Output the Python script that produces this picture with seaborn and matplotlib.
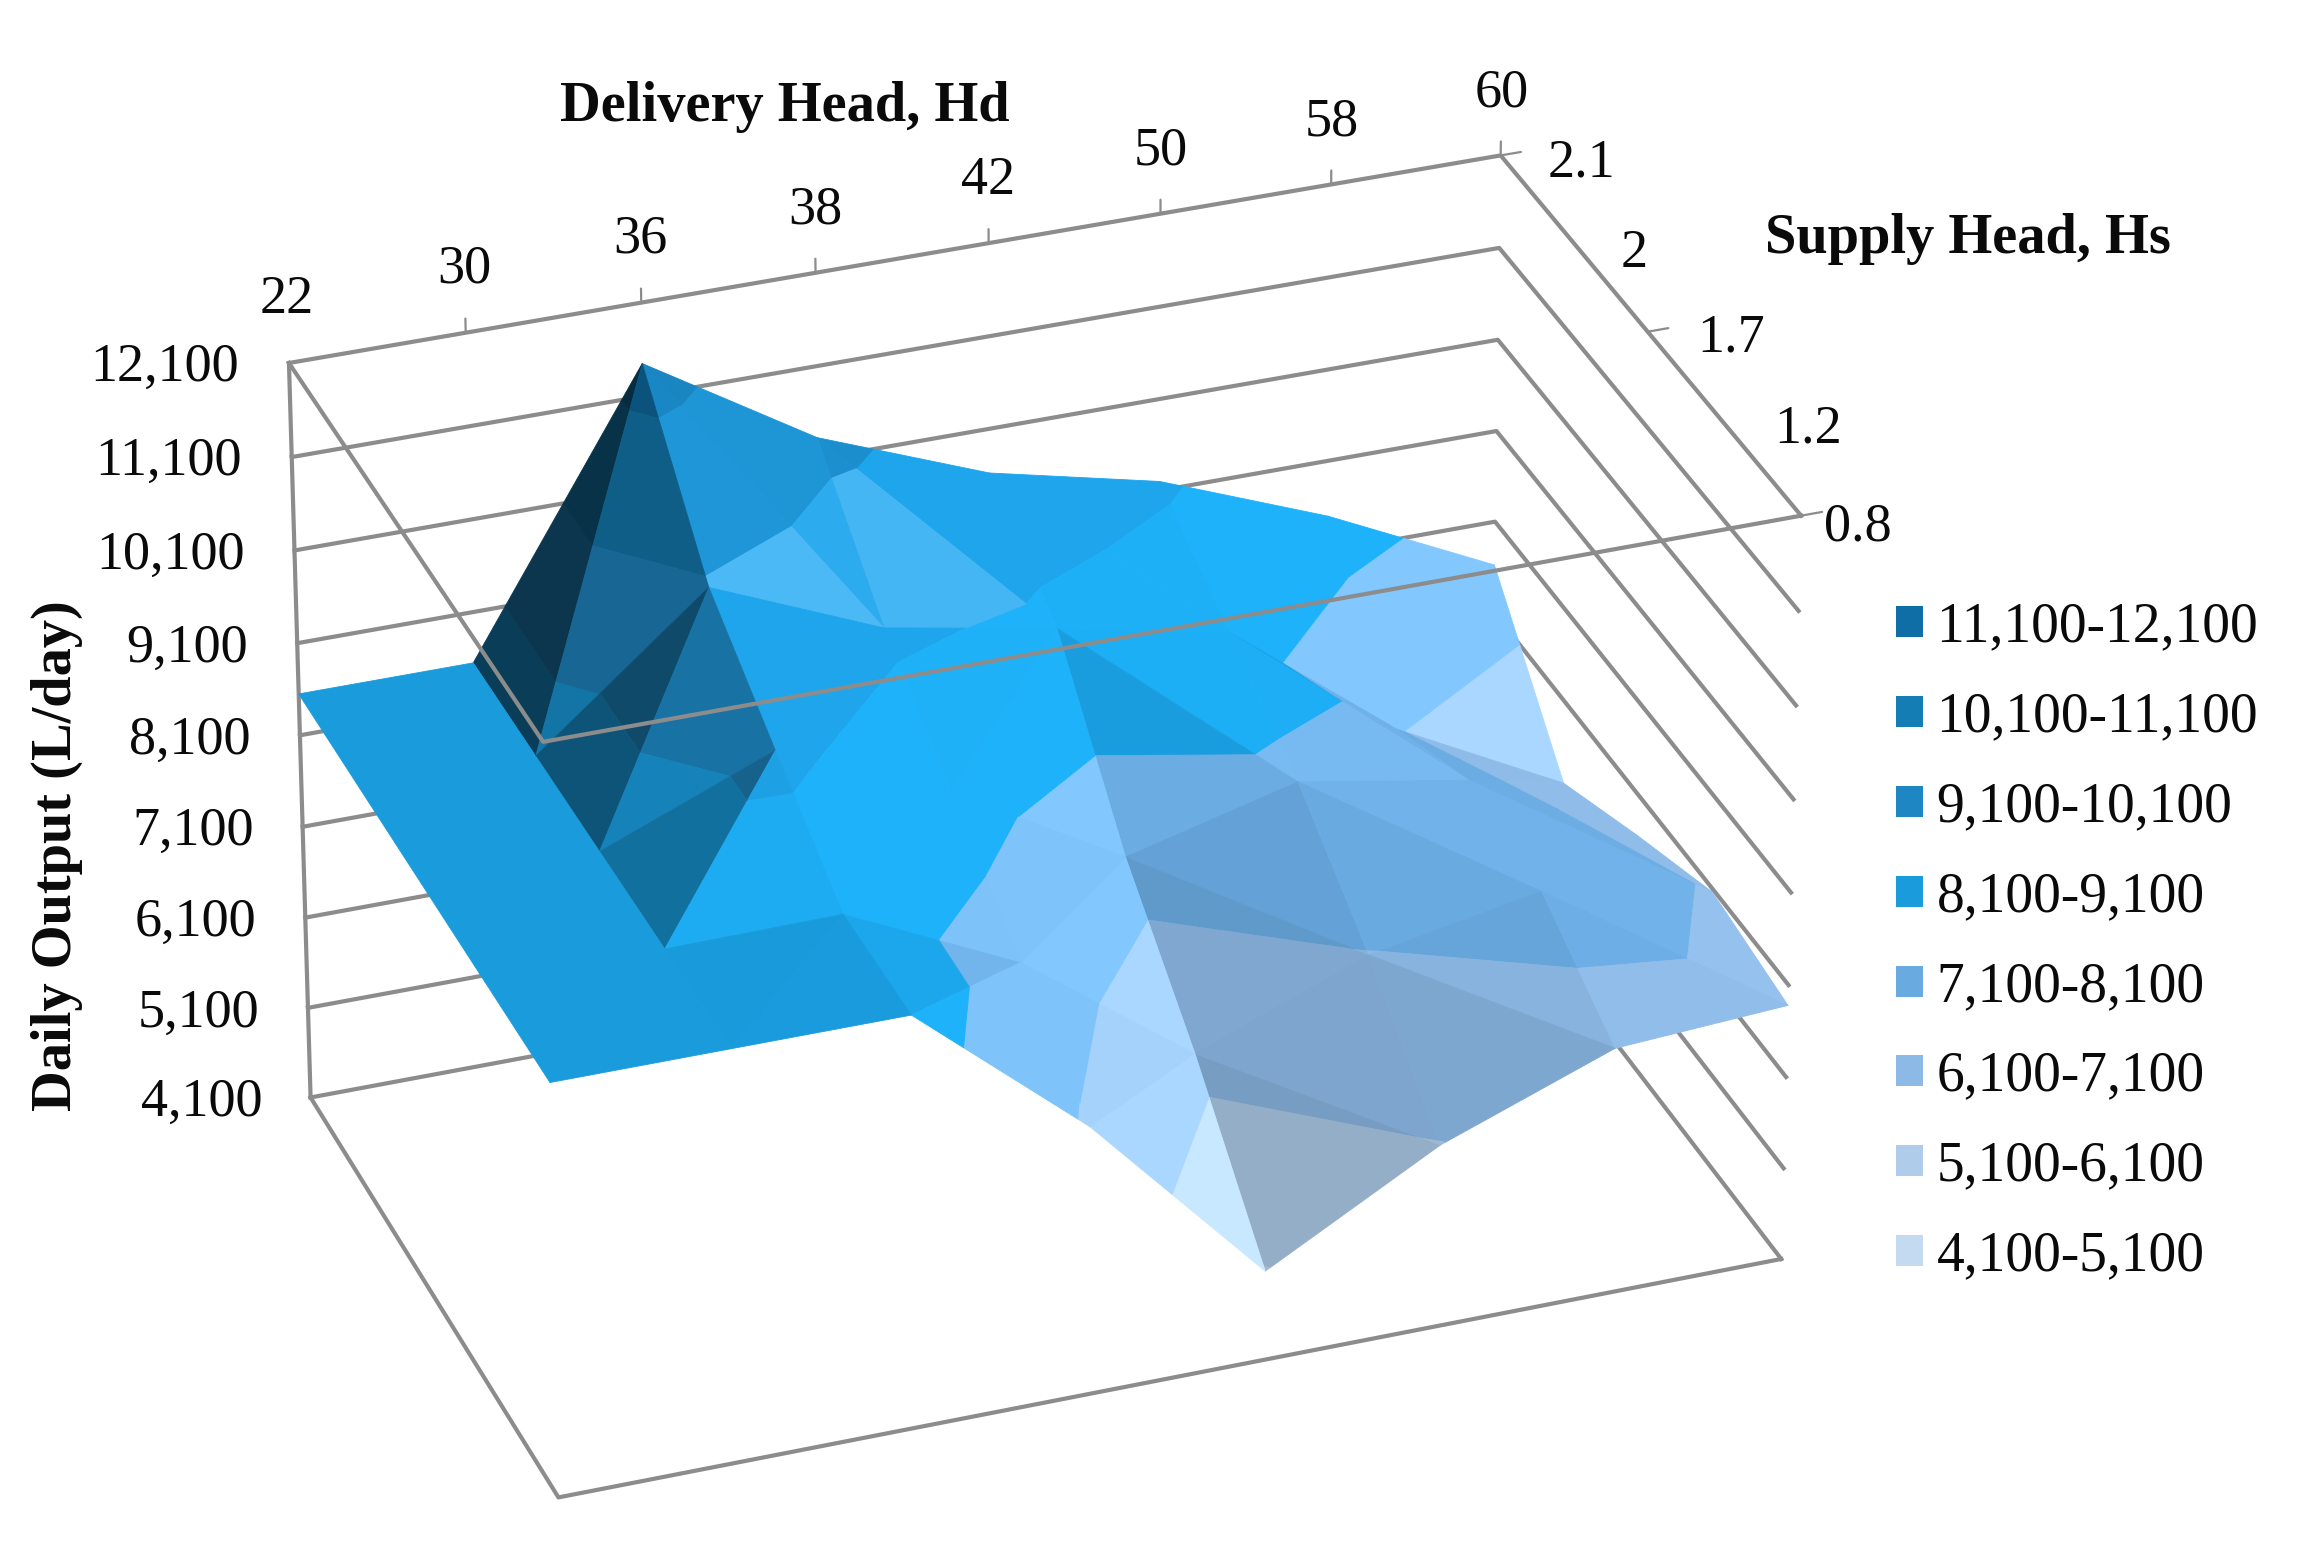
import numpy as np
import seaborn as sns
import matplotlib
matplotlib.use("Agg")
import matplotlib.pyplot as plt
from matplotlib.colors import to_rgb
from matplotlib.patches import Patch
from mpl_toolkits.mplot3d import proj3d
from mpl_toolkits.mplot3d.art3d import Poly3DCollection

hd_labels = ["22", "30", "36", "38", "42", "50", "58", "60"]
hs_labels = ["0.8", "1.2", "1.7", "2", "2.1"]
z_ticks = [4100, 5100, 6100, 7100, 8100, 9100, 10100, 11100, 12100]

# daily output per supply head, one value per delivery head
output_08 = [8550, 8550, 8550, 7000, 5070, 6080, 6770, 6880]
output_12 = [8550, 8550, 8570, 7700, 6360, 7080, 7420, 7063]
output_17 = [8550, 8550, 9290, 8500, 7450, 7925, 7600, 6650]
output_20 = [8550, 8550, 10030, 9260, 8920, 8550, 7140, 6200]
output_21 = [8550, 8550, 11450, 10330, 9620, 9200, 8490, 7620]

band_edges = [4100, 5100, 6100, 7100, 8100, 9100, 10100, 11100, 12100]
band_labels = ["4,100-5,100", "5,100-6,100", "6,100-7,100", "7,100-8,100",
               "8,100-9,100", "9,100-10,100", "10,100-11,100", "11,100-12,100"]
band_colors = ["#c3daf0", "#afcdeb", "#8cb9e6", "#69aae1",
               "#199bdc", "#1e87c3", "#147db4", "#0f6ea5"]
# what each band turns into on the faces that catch the light
band_lit = ["#cdeeff", "#c8e8ff", "#aad7ff", "#82c8ff",
            "#1eb2fa", "#1ea5eb", "#1e96d7", "#1987c3"]
band_span = [0.45, 0.45, 0.45, 0.45, 0.3, 0.25, 0.45, 0.45]
steep_lit = "#4bb9f5"

sns.set_theme(style="white")
plt.rcParams["font.family"] = ["Liberation Serif", "DejaVu Serif"]

Z = np.array([output_08, output_12, output_17, output_20, output_21], dtype=float)
fig = plt.figure(figsize=(2301 / 200, 1542 / 200), dpi=200)
ax = fig.add_subplot(projection="3d", computed_zorder=False)
ax.set_xlim(0, 7)
ax.set_ylim(0, 4)
ax.set_zlim(4100, 12100)
ax.set_axis_off()

# camera fitted to the box corners of the reference
box_a, box_b = 1.5149, 0.9424
ax.view_init(elev=30.156, azim=-109.844, roll=0.096)
ax.set_proj_type("persp", focal_length=1.6795)
ax.set_box_aspect((box_a, box_b, 1.0))
ax.set_position([0.0729, -0.0923, 0.7372, 1.1001])
scale = np.array([box_a / 7, box_b / 4, 1.0 / 8000])


def clip_band(tri, lo, hi):
    poly = list(tri)
    for level, above in ((lo, True), (hi, False)):
        out = []
        for k in range(len(poly)):
            a, b = poly[k], poly[(k + 1) % len(poly)]
            a_in = a[2] >= level if above else a[2] <= level
            b_in = b[2] >= level if above else b[2] <= level
            if a_in:
                out.append(a)
            if a_in != b_in:
                out.append(a + (level - a[2]) / (b[2] - a[2]) * (b - a))
        poly = out
        if not poly:
            return []
    return poly


def shade(tri, band):
    # light comes from the front right
    n = np.cross((tri[1] - tri[0]) * scale, (tri[2] - tri[0]) * scale)
    n = n / np.linalg.norm(n)
    if n[2] < 0:
        n = -n
    base = np.array(to_rgb(band_colors[band]))
    lit = np.array(to_rgb(band_lit[band]))
    if n[0] < -0.02:
        f = 1 + 0.7 * n[0] - 0.3 * n[1]
    else:
        f = 1 + 0.35 * n[0] - 0.6 * n[1]
    if f <= 1:
        return base * max(f, 0.33)
    col = base + min((f - 1) / band_span[band], 1) * (lit - base)
    if band == 5 and n[0] > 0:
        # the 9,100 band goes pale on faces tilted hard towards the front
        col = col + np.clip((-n[1] - 0.40) / 0.1, 0, 1) * (np.array(to_rgb(steep_lit)) - col)
    return col


polys, colors = [], []
for j in range(Z.shape[0] - 1):
    for i in range(Z.shape[1] - 1):
        v = [np.array([i + di, j + dj, Z[j + dj, i + di]]) for di, dj in ((0, 0), (1, 0), (1, 1), (0, 1))]
        # each cell folds along its higher diagonal
        if v[0][2] + v[2][2] >= v[1][2] + v[3][2]:
            tris = [(v[0], v[1], v[2]), (v[0], v[2], v[3])]
        else:
            tris = [(v[0], v[1], v[3]), (v[1], v[2], v[3])]
        for tri in tris:
            for b in range(len(band_labels)):
                piece = clip_band(tri, band_edges[b], band_edges[b + 1])
                if len(piece) >= 3:
                    polys.append(np.array(piece))
                    colors.append(shade(tri, b))

grid = {"color": "#8c8c8c", "lw": 1.5, "solid_capstyle": "projecting"}
for z in z_ticks:
    ax.plot([0, 7, 7], [4, 4, 0], [z, z, z], zorder=1, **grid)
ax.plot([0, 0], [4, 4], [4100, 12100], zorder=1, **grid)
ax.plot([0, 0, 7], [4, 0, 0], [4100, 4100, 4100], zorder=1, **grid)

surf = Poly3DCollection(polys, facecolors=colors, edgecolors=colors, linewidths=0.3, zorder=2)
ax.add_collection3d(surf)

ax.plot([0, 0, 7], [4, 0, 0], [12100, 12100, 12100], zorder=3, **grid)

tick = {"color": "#8c8c8c", "lw": 0.8}
for i in range(1, 8):
    ax.plot([i, i], [4, 4], [12100, 12250], zorder=1, **tick)
for j in (0, 2, 4):
    ax.plot([7, 7.12], [j, j], [12100, 12100], zorder=3, **tick)


def label3d(x, y, z, s, ha="center"):
    # plain 2D text at the projected spot of a data position
    xp, yp, _ = proj3d.proj_transform(x, y, z, ax.get_proj())
    ax.text2D(xp, yp, s, transform=ax.transData, ha=ha, va="center", fontsize=19.5, color="#0a0a0a")


for i, lab in enumerate(hd_labels):
    label3d(i, 4, 12770, lab)
hs_offsets = [7.33, 7.49, 7.49, 7.36, 7.48]
for j, lab in enumerate(hs_labels):
    label3d(hs_offsets[j], j, 11870, lab)
for z in z_ticks:
    label3d(-0.28, 4, z + 40, f"{z:,}", ha="right")

fig.text(535 / 1568, 1 - 73 / 1051, "Delivery Head, Hd", ha="center", va="center", fontsize=20.3, fontweight="bold", color="#0a0a0a")
fig.text(1341 / 1568, 1 - 163 / 1051, "Supply Head, Hs", ha="center", va="center", fontsize=20.3, fontweight="bold", color="#0a0a0a")
fig.text(39 / 1568, 1 - 583 / 1051, "Daily Output (L/day)", ha="center", va="center", rotation=90, fontsize=20.3, fontweight="bold", color="#0a0a0a")

handles = [Patch(facecolor=c, edgecolor="none") for c in band_colors[::-1]]
leg = fig.legend(handles, band_labels[::-1], loc="center left", bbox_to_anchor=(1292 / 1568, 1 - 642 / 1051),
                 frameon=False, fontsize=20, handlelength=0.48, handleheight=0.48, handletextpad=0.25,
                 labelspacing=0.68, borderaxespad=0, borderpad=0)
for t in leg.get_texts():
    t.set_color("#0a0a0a")

fig.savefig("out.png", dpi=200)
